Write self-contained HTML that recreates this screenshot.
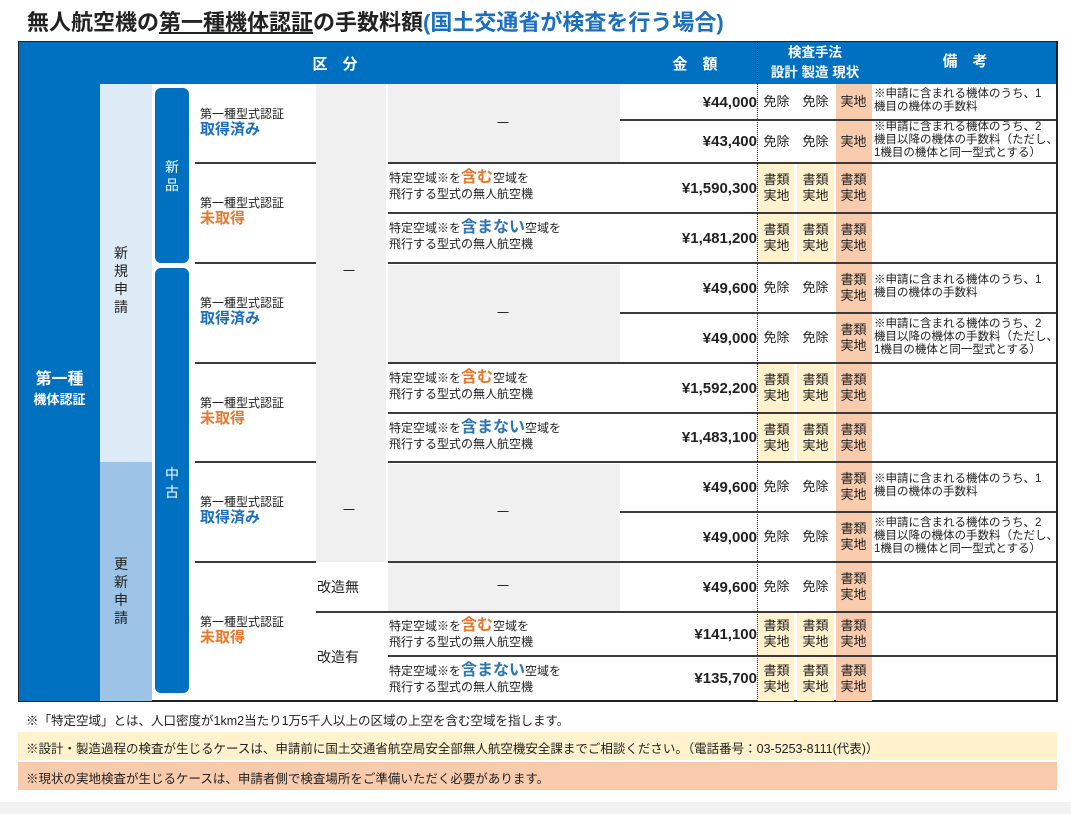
<!DOCTYPE html>
<html><head><meta charset="utf-8">
<style>
*{margin:0;padding:0;box-sizing:border-box}
body{width:1071px;height:814px;background:#fff;position:relative;overflow:hidden;font-family:"Liberation Sans","Noto Sans CJK JP",sans-serif;color:#222}
.a{position:absolute}
.t{font-size:12px;line-height:16px;white-space:nowrap}
.hl{position:absolute;height:2px;background:#3a3a3a}
.c{display:flex;align-items:center;justify-content:center;text-align:center}
.amt{position:absolute;left:620px;width:137px;text-align:right;font-weight:bold;font-size:15px;display:flex;align-items:center;justify-content:flex-end;color:#222}
.cell{position:absolute;width:37px;font-size:13px;line-height:16px;display:flex;align-items:center;justify-content:center;text-align:center}
.note{position:absolute;left:874px;font-size:11.5px;line-height:13px;white-space:nowrap;display:flex;align-items:center}
.blue{color:#1a6fbf;font-weight:bold;font-size:15px}
.org{color:#e8782a;font-weight:bold;font-size:15px}
.big-o{color:#e8782a;font-weight:bold;font-size:16px}
.big-b{color:#2e75b6;font-weight:bold;font-size:16px}
</style></head><body>
<div class="a" style="left:27px;top:8px;font-size:22px;font-weight:bold;white-space:nowrap;line-height:30px">無人航空機の<span style="text-decoration:underline">第一種機体認証</span>の手数料額<span style="color:#1a6fbf">(国土交通省が検査を行う場合)</span></div>

<div class="a" style="left:18px;top:41px;width:1040px;height:661px;border:2px solid #222;background:#fff"></div>
<div class="a" style="left:19px;top:42px;width:1038px;height:42px;background:#0070c0"></div>
<div class="a" style="left:19px;top:42px;width:81px;height:659px;background:#0070c0"></div>
<div class="a" style="left:100px;top:84px;width:52px;height:378px;background:#ddebf7"></div>
<div class="a" style="left:100px;top:462px;width:52px;height:239px;background:#9dc3e6"></div>
<div class="a" style="left:155px;top:88px;width:34px;height:175px;background:#0070c0;border-radius:6px"></div>
<div class="a" style="left:155px;top:268px;width:34px;height:425px;background:#0070c0;border-radius:6px"></div>

<div class="a c" style="left:280px;top:42px;width:110px;height:42px;color:#fff;font-weight:bold;font-size:15px">区　分</div>
<div class="a c" style="left:640px;top:42px;width:110px;height:42px;color:#fff;font-weight:bold;font-size:15px">金　額</div>
<div class="a" style="left:758px;top:43px;width:114px;color:#fff;font-weight:bold;font-size:13.5px;line-height:20px;text-align:center">検査手法<br>設計 製造 現状</div>
<div class="a c" style="left:900px;top:42px;width:130px;height:36px;color:#fff;font-weight:bold;font-size:15px">備　考</div>
<div class="a c" style="left:19px;top:370px;width:81px;color:#fff;font-weight:bold;font-size:16px;line-height:20px;flex-direction:column">第一種<span style="font-size:13px">機体認証</span></div>
<div class="a" style="left:114px;top:244px;width:16px;font-size:14px;line-height:18px">新<br>規<br>申<br>請</div>
<div class="a" style="left:114px;top:555px;width:16px;font-size:14px;line-height:18px">更<br>新<br>申<br>請</div>
<div class="a" style="left:165px;top:158px;color:#fff;font-size:14px;line-height:18px">新<br>品</div>
<div class="a" style="left:165px;top:465px;color:#fff;font-size:14px;line-height:18px">中<br>古</div>

<div class="a" style="left:316px;top:84px;width:70px;height:478px;background:#f0f0f0"></div>
<div class="a" style="left:388px;top:84px;width:232px;height:79px;background:#f0f0f0"></div>
<div class="a" style="left:388px;top:265px;width:232px;height:98px;background:#f0f0f0"></div>
<div class="a" style="left:388px;top:464px;width:232px;height:148px;background:#f0f0f0"></div>

<div class="a" style="left:836px;top:84px;width:36px;height:617px;background:#f8cbad"></div>
<div class="a" style="left:758px;top:164px;width:36px;height:99px;background:#fff2cc"></div>
<div class="a" style="left:797px;top:164px;width:37px;height:99px;background:#fff2cc"></div>
<div class="a" style="left:758px;top:364px;width:36px;height:98px;background:#fff2cc"></div>
<div class="a" style="left:797px;top:364px;width:37px;height:98px;background:#fff2cc"></div>
<div class="a" style="left:758px;top:613px;width:36px;height:88px;background:#fff2cc"></div>
<div class="a" style="left:797px;top:613px;width:37px;height:88px;background:#fff2cc"></div>
<div class="a" style="left:757px;top:42px;width:0;height:659px;border-left:1px dotted #333"></div>

<div class="hl" style="left:195px;top:162px;width:121px"></div>
<div class="hl" style="left:195px;top:262px;width:121px"></div>
<div class="hl" style="left:195px;top:362px;width:121px"></div>
<div class="hl" style="left:195px;top:461px;width:121px"></div>
<div class="hl" style="left:195px;top:561px;width:121px"></div>
<div class="hl" style="left:316px;top:611px;width:72px"></div>
<div class="hl" style="left:388px;top:162px;width:669px"></div>
<div class="hl" style="left:388px;top:212px;width:669px"></div>
<div class="hl" style="left:388px;top:262px;width:669px"></div>
<div class="hl" style="left:388px;top:362px;width:669px"></div>
<div class="hl" style="left:388px;top:412px;width:669px"></div>
<div class="hl" style="left:388px;top:461px;width:669px"></div>
<div class="hl" style="left:388px;top:561px;width:669px"></div>
<div class="hl" style="left:388px;top:611px;width:669px"></div>
<div class="hl" style="left:388px;top:655px;width:669px"></div>
<div class="hl" style="left:620px;top:119px;width:437px"></div>
<div class="hl" style="left:620px;top:312px;width:437px"></div>
<div class="hl" style="left:620px;top:511px;width:437px"></div>

<div class="a t" style="left:200px;top:106px">第一種型式認証<br><span class="blue">取得済み</span></div>
<div class="a t" style="left:200px;top:195px">第一種型式認証<br><span class="org">未取得</span></div>
<div class="a t" style="left:200px;top:295px">第一種型式認証<br><span class="blue">取得済み</span></div>
<div class="a t" style="left:200px;top:395px">第一種型式認証<br><span class="org">未取得</span></div>
<div class="a t" style="left:200px;top:494px">第一種型式認証<br><span class="blue">取得済み</span></div>
<div class="a t" style="left:200px;top:614px">第一種型式認証<br><span class="org">未取得</span></div>

<div class="a t" style="left:343px;top:263px">一</div>
<div class="a t" style="left:343px;top:502px">一</div>
<div class="a" style="left:317px;top:577px;font-size:14px">改造無</div>
<div class="a" style="left:317px;top:647px;font-size:14px">改造有</div>

<div class="a t" style="left:497px;top:115px">一</div>
<div class="a t" style="left:497px;top:305px">一</div>
<div class="a t" style="left:497px;top:504px">一</div>
<div class="a t" style="left:497px;top:578px">一</div>
<div class="a t" style="left:389px;top:170px">特定空域※を<span class="big-o">含む</span>空域を<br>飛行する型式の無人航空機</div>
<div class="a t" style="left:389px;top:220px">特定空域※を<span class="big-b">含まない</span>空域を<br>飛行する型式の無人航空機</div>
<div class="a t" style="left:389px;top:370px">特定空域※を<span class="big-o">含む</span>空域を<br>飛行する型式の無人航空機</div>
<div class="a t" style="left:389px;top:420px">特定空域※を<span class="big-b">含まない</span>空域を<br>飛行する型式の無人航空機</div>
<div class="a t" style="left:389px;top:618px">特定空域※を<span class="big-o">含む</span>空域を<br>飛行する型式の無人航空機</div>
<div class="a t" style="left:389px;top:663px">特定空域※を<span class="big-b">含まない</span>空域を<br>飛行する型式の無人航空機</div>

<div class="amt" style="top:84px;height:36px">¥44,000</div>
<div class="amt" style="top:120px;height:43px">¥43,400</div>
<div class="amt" style="top:163px;height:50px">¥1,590,300</div>
<div class="amt" style="top:213px;height:50px">¥1,481,200</div>
<div class="amt" style="top:263px;height:50px">¥49,600</div>
<div class="amt" style="top:313px;height:50px">¥49,000</div>
<div class="amt" style="top:363px;height:50px">¥1,592,200</div>
<div class="amt" style="top:413px;height:49px">¥1,483,100</div>
<div class="amt" style="top:462px;height:50px">¥49,600</div>
<div class="amt" style="top:512px;height:50px">¥49,000</div>
<div class="amt" style="top:562px;height:50px">¥49,600</div>
<div class="amt" style="top:612px;height:44px">¥141,100</div>
<div class="amt" style="top:656px;height:45px">¥135,700</div>

<div class="cell" style="left:758px;top:84px;height:36px">免除</div><div class="cell" style="left:797px;top:84px;height:36px">免除</div><div class="cell" style="left:835px;top:84px;height:36px">実地</div>
<div class="cell" style="left:758px;top:120px;height:43px">免除</div><div class="cell" style="left:797px;top:120px;height:43px">免除</div><div class="cell" style="left:835px;top:120px;height:43px">実地</div>
<div class="cell" style="left:758px;top:163px;height:50px">書類<br>実地</div><div class="cell" style="left:797px;top:163px;height:50px">書類<br>実地</div><div class="cell" style="left:835px;top:163px;height:50px">書類<br>実地</div>
<div class="cell" style="left:758px;top:213px;height:50px">書類<br>実地</div><div class="cell" style="left:797px;top:213px;height:50px">書類<br>実地</div><div class="cell" style="left:835px;top:213px;height:50px">書類<br>実地</div>
<div class="cell" style="left:758px;top:263px;height:50px">免除</div><div class="cell" style="left:797px;top:263px;height:50px">免除</div><div class="cell" style="left:835px;top:263px;height:50px">書類<br>実地</div>
<div class="cell" style="left:758px;top:313px;height:50px">免除</div><div class="cell" style="left:797px;top:313px;height:50px">免除</div><div class="cell" style="left:835px;top:313px;height:50px">書類<br>実地</div>
<div class="cell" style="left:758px;top:363px;height:50px">書類<br>実地</div><div class="cell" style="left:797px;top:363px;height:50px">書類<br>実地</div><div class="cell" style="left:835px;top:363px;height:50px">書類<br>実地</div>
<div class="cell" style="left:758px;top:413px;height:49px">書類<br>実地</div><div class="cell" style="left:797px;top:413px;height:49px">書類<br>実地</div><div class="cell" style="left:835px;top:413px;height:49px">書類<br>実地</div>
<div class="cell" style="left:758px;top:462px;height:50px">免除</div><div class="cell" style="left:797px;top:462px;height:50px">免除</div><div class="cell" style="left:835px;top:462px;height:50px">書類<br>実地</div>
<div class="cell" style="left:758px;top:512px;height:50px">免除</div><div class="cell" style="left:797px;top:512px;height:50px">免除</div><div class="cell" style="left:835px;top:512px;height:50px">書類<br>実地</div>
<div class="cell" style="left:758px;top:562px;height:50px">免除</div><div class="cell" style="left:797px;top:562px;height:50px">免除</div><div class="cell" style="left:835px;top:562px;height:50px">書類<br>実地</div>
<div class="cell" style="left:758px;top:612px;height:44px">書類<br>実地</div><div class="cell" style="left:797px;top:612px;height:44px">書類<br>実地</div><div class="cell" style="left:835px;top:612px;height:44px">書類<br>実地</div>
<div class="cell" style="left:758px;top:656px;height:45px">書類<br>実地</div><div class="cell" style="left:797px;top:656px;height:45px">書類<br>実地</div><div class="cell" style="left:835px;top:656px;height:45px">書類<br>実地</div>

<div class="note" style="top:88px">※申請に含まれる機体のうち、1<br>機目の機体の手数料</div>
<div class="note" style="top:121px">※申請に含まれる機体のうち、2<br>機目以降の機体の手数料（ただし、<br>1機目の機体と同一型式とする）</div>
<div class="note" style="top:274px">※申請に含まれる機体のうち、1<br>機目の機体の手数料</div>
<div class="note" style="top:318px">※申請に含まれる機体のうち、2<br>機目以降の機体の手数料（ただし、<br>1機目の機体と同一型式とする）</div>
<div class="note" style="top:473px">※申請に含まれる機体のうち、1<br>機目の機体の手数料</div>
<div class="note" style="top:517px">※申請に含まれる機体のうち、2<br>機目以降の機体の手数料（ただし、<br>1機目の機体と同一型式とする）</div>
<div class="a" style="left:1056px;top:42px;width:2px;height:660px;background:#222"></div>

<div class="a" style="left:26px;top:710px;font-size:12.5px;white-space:nowrap">※「特定空域」とは、人口密度が1km2当たり1万5千人以上の区域の上空を含む空域を指します。</div>
<div class="a" style="left:18px;top:732px;width:1039px;height:28px;background:#fff2cc"></div>
<div class="a" style="left:26px;top:738px;font-size:12.5px;white-space:nowrap">※設計・製造過程の検査が生じるケースは、申請前に国土交通省航空局安全部無人航空機安全課までご相談ください。（電話番号：03-5253-8111(代表)）</div>
<div class="a" style="left:18px;top:762px;width:1039px;height:28px;background:#f8cbad"></div>
<div class="a" style="left:26px;top:768px;font-size:12.5px;white-space:nowrap">※現状の実地検査が生じるケースは、申請者側で検査場所をご準備いただく必要があります。</div>
<div class="a" style="left:0;top:802px;width:1071px;height:12px;background:#f2f2f2"></div>
</body></html>
